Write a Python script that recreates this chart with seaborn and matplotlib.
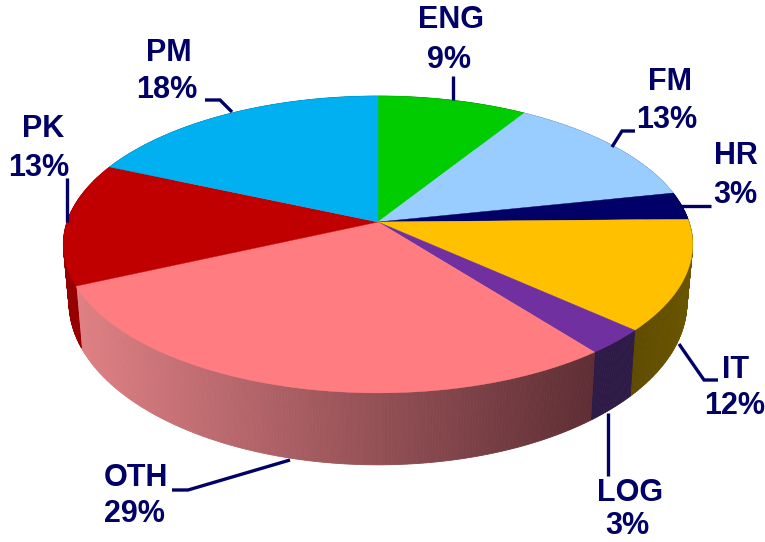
import numpy as np
import matplotlib
matplotlib.use("Agg")
import matplotlib.pyplot as plt
import seaborn as sns

# data
categories = ["ENG", "FM", "HR", "IT", "LOG", "OTH", "PK", "PM"]
shares = [8.9, 12.8, 3.0, 12.0, 2.8, 28.7, 13.4, 18.4]

# style
top_colors = ["#00CC00", "#99CCFF", "#000066", "#FFC000", "#7030A0", "#FF7C80", "#C00000", "#00B0F0"]
side_left = ["#008000", "#6080A0", "#000040", "#6A5500", "#2E1A46", "#DE8084", "#960000", "#006E96"]
side_right = ["#008000", "#6080A0", "#000040", "#5E4A00", "#2E1A46", "#5E2E34", "#960000", "#006E96"]
INK = "#000066"

sns.set_theme(style="white")
plt.rcParams["font.family"] = ["Liberation Sans", "DejaVu Sans"]

# projection of the tilted disc
CX, CY = 378.0, 222.0
A, C, K = 145.0, 311.0, 0.1515


def rim(theta):
    u, v = np.sin(theta), np.cos(theta)
    d = 1 + K * v
    return C * u / d, A * v / d


def top_pts(theta):
    X, Y = rim(theta)
    return CX + X, CY - Y


def bottom_pts(theta):
    X, Y = rim(theta)
    return CX + 0.982 * X, CY - (1.095 * Y - 55.7)


fig = plt.figure(figsize=(7.65, 5.42), dpi=100)
ax = fig.add_axes([0, 0, 1, 1])
ax.set_xlim(0, 765)
ax.set_ylim(542, 0)
ax.axis("off")

edges = np.deg2rad(np.cumsum([0] + shares) / sum(shares) * 360)

# side wall, strip by strip
for i in range(len(shares)):
    a0, a1 = edges[i], edges[i + 1]
    n = max(2, int((a1 - a0) / np.deg2rad(0.5)))
    t = np.linspace(a0, a1, n + 1)
    c0 = np.array(matplotlib.colors.to_rgb(side_left[i]))
    c1 = np.array(matplotlib.colors.to_rgb(side_right[i]))
    for j in range(n):
        tt = t[j:j + 2]
        xt, yt = top_pts(tt)
        xb, yb = bottom_pts(tt)
        xm = xt.mean()
        f = np.clip((xm - 78) / (592 - 78), 0, 1)
        if categories[i] == "IT":
            f = 1 - np.clip((xm - 630) / 60, 0, 1)
        col = c0 + (c1 - c0) * f
        ax.fill(np.r_[xt, xb[::-1]], np.r_[yt, yb[::-1]], color=col, lw=0.6, zorder=2)

# top face
for i in range(len(shares)):
    t = np.linspace(edges[i], edges[i + 1], 120)
    x, y = top_pts(t)
    ax.fill(np.r_[CX, x], np.r_[CY, y], color=top_colors[i], lw=0.3, zorder=3)

# leader lines
leaders = [
    ([453, 453], [76, 100]),
    ([612, 622, 635], [147, 131, 131]),
    ([680, 711], [206, 206]),
    ([679, 704, 718], [344, 380, 380]),
    ([608, 608], [413, 476]),
    ([172, 188, 290], [490, 490, 460]),
    ([67, 67], [178, 222]),
    ([205, 220, 232], [100, 100, 112]),
]
for lx, ly in leaders:
    ax.plot(lx, ly, color=INK, lw=2.4, solid_capstyle="butt", solid_joinstyle="miter", zorder=4)

# labels: name and share, each line centred on its own anchor
name_xy = [(451, 20), (670, 82), (736, 156), (736, 370), (630, 493), (136, 478), (43, 129), (169, 53)]
pct_xy = [(449, 60), (667, 120), (735, 195), (735, 406), (627, 526), (134, 514), (39, 168), (167, 90)]
for cat, val, nxy, pxy in zip(categories, shares, name_xy, pct_xy):
    ax.text(*nxy, cat, color=INK, fontsize=22, fontweight="bold", ha="center", va="center", zorder=5)
    ax.text(*pxy, f"{val:.0f}%", color=INK, fontsize=22, fontweight="bold", ha="center", va="center", zorder=5)

fig.savefig("out.png", dpi=100, facecolor="white")
